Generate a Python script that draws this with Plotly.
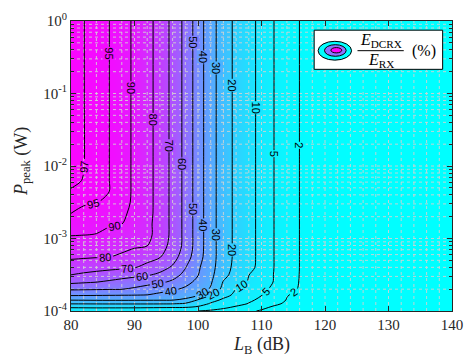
import plotly.graph_objects as go

# Link loss L_B (dB) and peak power P_peak (W) grid
L_B = [80, 82, 84, 86, 88, 90, 92, 94, 96, 98, 100, 102, 104, 106, 108, 110, 112, 114, 116, 118, 124, 140]
P_PEAK = [1.0e-4, 1.122e-4, 1.259e-4, 1.413e-4, 1.660e-4, 1.995e-4, 2.512e-4, 3.162e-4, 3.981e-4,
          5.623e-4, 7.943e-4, 1.122e-3, 1.585e-3, 2.239e-3, 3.162e-3, 4.467e-3, 6.310e-3, 1.0e-2, 1.0e-1, 1.0]

# E_DCRX / E_RX in percent, one row per P_PEAK value (bottom to top)
E_RATIO = [
    [7.0, 7.0, 6.9, 6.8, 6.7, 6.5, 6.3, 6.0, 5.7, 5.35, 5.0, 4.3, 3.6, 2.9, 2.3, 1.8, 1.4, 1.1, 0.9, 0.7, 0.35, 0.1],
    [10.3, 10.4, 10.5, 10.5, 10.5, 10.5, 10.4, 10.3, 10.2, 10.1, 8.8, 7.3, 5.7, 4.4, 3.3, 2.4, 1.7, 1.3, 1.0, 0.8, 0.4, 0.1],
    [20.3, 20.4, 20.5, 20.6, 20.6, 20.6, 20.6, 20.5, 20.3, 18.6, 13.1, 9.3, 7.8, 6.2, 4.8, 3.6, 2.35, 1.7, 1.3, 0.95, 0.45, 0.1],
    [30.1, 30.3, 30.5, 30.6, 30.6, 30.5, 30.4, 30.3, 30.1, 28.5, 19.0, 12.1, 8.9, 7.3, 5.6, 4.25, 3.0, 1.9, 1.4, 1.0, 0.45, 0.1],
    [41.2, 41.0, 40.8, 40.6, 40.4, 40.2, 39.8, 37.6, 35.5, 33.3, 31.1, 20.1, 12.0, 8.7, 6.9, 5.1, 3.7, 2.1, 1.5, 1.1, 0.5, 0.1],
    [51.2, 50.9, 50.6, 50.3, 50.1, 48.4, 46.1, 43.7, 41.4, 38.3, 34.0, 29.1, 16.6, 9.9, 7.9, 5.9, 4.2, 2.8, 1.8, 1.2, 0.5, 0.1],
    [62.3, 61.2, 60.2, 58.6, 56.8, 55.0, 53.2, 51.4, 48.6, 43.2, 37.5, 31.2, 19.4, 13.9, 9.3, 7.0, 4.8, 3.3, 1.9, 1.25, 0.5, 0.1],
    [70.1, 68.5, 67.0, 65.5, 64.0, 62.5, 61.0, 58.3, 53.4, 47.8, 40.4, 32.4, 23.0, 15.9, 10.1, 7.4, 4.85, 3.4, 1.95, 1.3, 0.5, 0.1],
    [75.0, 74.2, 73.4, 72.5, 71.6, 70.4, 67.4, 63.4, 58.8, 50.4, 41.4, 33.2, 24.3, 17.1, 11.8, 8.0, 4.95, 3.5, 1.98, 1.3, 0.5, 0.1],
    [81.7, 81.2, 80.7, 80.3, 78.8, 76.1, 73.4, 70.7, 64.0, 55.0, 44.1, 33.8, 25.0, 17.8, 12.2, 8.1, 4.95, 3.5, 1.98, 1.3, 0.5, 0.1],
    [86.7, 85.6, 84.5, 83.4, 82.3, 81.2, 80.1, 74.2, 66.8, 57.2, 45.0, 33.8, 25.0, 17.8, 12.2, 8.1, 4.95, 3.5, 1.98, 1.3, 0.5, 0.1],
    [90.3, 90.1, 89.8, 88.0, 85.8, 84.3, 82.4, 76.2, 67.5, 57.2, 45.0, 33.8, 25.0, 17.8, 12.2, 8.1, 4.95, 3.5, 1.98, 1.3, 0.5, 0.1],
    [92.9, 92.2, 91.5, 90.8, 90.1, 86.6, 82.3, 76.3, 67.5, 57.2, 45.0, 33.8, 25.0, 17.8, 12.2, 8.1, 4.95, 3.5, 1.98, 1.3, 0.5, 0.1],
    [95.05, 94.0, 92.9, 91.9, 90.8, 88.9, 83.1, 76.3, 67.5, 57.2, 45.0, 33.8, 25.0, 17.8, 12.2, 8.1, 4.95, 3.5, 1.98, 1.3, 0.5, 0.1],
    [95.9, 95.5, 95.2, 94.0, 91.8, 89.1, 83.2, 76.3, 67.5, 57.2, 45.0, 33.8, 25.0, 17.8, 12.2, 8.1, 4.95, 3.5, 1.98, 1.3, 0.5, 0.1],
    [96.8, 96.2, 95.6, 95.05, 92.3, 89.1, 83.2, 76.3, 67.5, 57.2, 45.0, 33.8, 25.0, 17.8, 12.2, 8.1, 4.95, 3.5, 1.98, 1.3, 0.5, 0.1],
    [97.5, 96.9, 96.0, 95.05, 92.3, 89.1, 83.2, 76.3, 67.5, 57.2, 45.0, 33.8, 25.0, 17.8, 12.2, 8.1, 4.95, 3.5, 1.98, 1.3, 0.5, 0.1],
    [98.0, 97.05, 96.0, 95.05, 92.3, 89.1, 83.2, 76.3, 67.5, 57.2, 45.0, 33.8, 25.0, 17.8, 12.2, 8.1, 4.95, 3.5, 1.98, 1.3, 0.5, 0.1],
    [98.0, 97.05, 96.0, 95.05, 92.3, 89.1, 83.2, 76.3, 67.5, 57.2, 45.0, 33.8, 25.0, 17.8, 12.2, 8.1, 4.95, 3.5, 1.98, 1.3, 0.5, 0.1],
    [98.0, 97.05, 96.0, 95.05, 92.3, 89.1, 83.2, 76.3, 67.5, 57.2, 45.0, 33.8, 25.0, 17.8, 12.2, 8.1, 4.95, 3.5, 1.98, 1.3, 0.5, 0.1],
]

LEVELS = [2, 5, 10, 20, 30, 40, 50, 60, 70, 80, 90, 95, 97]
X_TICKS = [80, 90, 100, 110, 120, 130, 140]
Y_TICKS = [1e-4, 1e-3, 1e-2, 1e-1, 1.0]
Y_TICK_TEXT = ["10<sup>-4</sup>", "10<sup>-3</sup>", "10<sup>-2</sup>", "10<sup>-1</sup>", "10<sup>0</sup>"]

# extra in-line labels on the upright parts of the iso-lines: (level, log10 height of the label)
UPRIGHT_LABELS = [(95, -0.45), (90, -0.92), (80, -1.36), (70, -1.72), (60, -1.97),
                  (50, -0.29), (40, -0.49), (30, -0.65), (20, -0.89), (10, -1.19), (5, -1.83), (2, -1.72),
                  (50, -2.59), (40, -2.81), (30, -2.95), (20, -3.16)]

COOL = [[0.0, "rgb(0,255,255)"], [1.0, "rgb(255,0,255)"]]
SERIF = "Liberation Serif"
AX_COLOR = "#262626"


def cool_colour(v):
    t = max(0.0, min(1.0, v / 100.0))
    return "rgb(%d,%d,255)" % (round(255 * t), round(255 * (1 - t)))


def level_position(row, lvl):
    # L_B where a row of E_RATIO passes through the given level
    for i in range(len(row) - 1):
        a, b = row[i], row[i + 1]
        if (a - lvl) * (b - lvl) <= 0 and a != b:
            return L_B[i] + (a - lvl) / (a - b) * (L_B[i + 1] - L_B[i])
    return None


fig = go.Figure()

# smooth colour field
fig.add_trace(go.Heatmap(
    x=L_B, y=P_PEAK, z=E_RATIO, zsmooth="best",
    colorscale=COOL, zmin=0, zmax=100, showscale=False, hoverinfo="skip",
))

# dotted grid sitting on the colour field
grid_line = dict(color="rgba(210,210,210,0.9)", width=1, dash="dot")
gx, gy = [], []
for xv in range(82, 140, 2):
    gx += [xv, xv, None]
    gy += [1e-4, 1.0, None]
for e in range(-4, 0):
    for k in range(1, 10):
        if e == -4 and k == 1:
            continue
        yv = k * 10.0 ** e
        gx += [80, 140, None]
        gy += [yv, yv, None]
fig.add_trace(go.Scatter(x=gx, y=gy, mode="lines", line=grid_line, hoverinfo="skip", showlegend=False))

# labelled iso-lines on an overlaid copy of the axes, so they stay above the grid
for lvl in LEVELS:
    fig.add_trace(go.Contour(
        x=L_B, y=P_PEAK, z=E_RATIO, autocontour=False, xaxis="x2", yaxis="y2",
        contours=dict(start=lvl, end=lvl, size=1, coloring="lines", showlabels=True,
                      labelfont=dict(size=11, color="black", family="Liberation Sans")),
        colorscale=[[0, "black"], [1, "black"]], showscale=False,
        line=dict(width=1, smoothing=0.9), hoverinfo="skip",
    ))

# legend box with contour icon
W, H, L0, T0 = 387.0, 300.0, 71.0, 11.0


def px(xp):
    return (xp - L0) / W


def py(yp):
    return (T0 + H - yp) / H


shapes = [
    dict(type="rect", xref="paper", yref="paper", x0=px(318), x1=px(448.5), y0=py(61), y1=py(20.5),
         fillcolor="white", line=dict(color="black", width=1), layer="above"),
    dict(type="circle", xref="paper", yref="paper", x0=px(322), x1=px(356), y0=py(51.5), y1=py(32),
         fillcolor="rgb(0,255,255)", line=dict(color="black", width=1), layer="above"),
    dict(type="circle", xref="paper", yref="paper", x0=px(328.5), x1=px(350.5), y0=py(47.5), y1=py(35.5),
         fillcolor="rgb(140,115,255)", line=dict(color="black", width=1), layer="above"),
    dict(type="circle", xref="paper", yref="paper", x0=px(335), x1=px(346), y0=py(44), y1=py(38.5),
         fillcolor="rgb(255,0,255)", line=dict(color="black", width=1), layer="above"),
    dict(type="line", xref="paper", yref="paper", x0=px(362), x1=px(409), y0=py(41.7), y1=py(41.7),
         line=dict(color="black", width=1), layer="above"),
]

annotations = [
    dict(text="<i>E</i><sub>DCRX</sub>", x=px(385.5), y=py(31), xref="paper", yref="paper",
         showarrow=False, xanchor="center", yanchor="middle", font=dict(family=SERIF, size=16, color="black")),
    dict(text="<i>E</i><sub>RX</sub>", x=px(385.5), y=py(52), xref="paper", yref="paper",
         showarrow=False, xanchor="center", yanchor="middle", font=dict(family=SERIF, size=16, color="black")),
    dict(text="(%)", x=px(430), y=py(42), xref="paper", yref="paper",
         showarrow=False, xanchor="center", yanchor="middle", font=dict(family=SERIF, size=16, color="black")),
    dict(text="<i>L</i><sub>B</sub> (dB)", x=px(264), y=py(347), xref="paper", yref="paper",
         showarrow=False, xanchor="center", yanchor="middle", font=dict(family=SERIF, size=18, color=AX_COLOR)),
    dict(text="<i>P</i><sub>peak</sub> (W)", x=px(21), y=py(156), xref="paper", yref="paper", textangle=-90,
         showarrow=False, xanchor="center", yanchor="middle", font=dict(family=SERIF, size=18, color=AX_COLOR)),
]

# upright labels sit on the iso-line, with the local fill colour behind them
top_row = E_RATIO[-1]
for lvl, ly in UPRIGHT_LABELS:
    xl = level_position(top_row, lvl)
    annotations.append(dict(
        text=str(lvl), x=xl, y=ly, xref="x", yref="y", showarrow=False, textangle=90,
        xanchor="center", yanchor="middle", bgcolor=cool_colour(lvl), borderpad=0,
        font=dict(family="Liberation Sans", size=11, color="black"),
    ))

minor_ticks = [k * 10.0 ** e for e in range(-4, 0) for k in range(2, 10)]

fig.update_layout(
    width=474, height=360,
    margin=dict(l=71, r=16, t=11, b=49),
    paper_bgcolor="white", plot_bgcolor="white",
    showlegend=False,
    shapes=shapes, annotations=annotations,
    xaxis=dict(range=[80, 140], tickmode="array", tickvals=X_TICKS, ticks="inside", ticklen=5,
               tickcolor=AX_COLOR, showline=True, linecolor=AX_COLOR, linewidth=1, mirror="ticks",
               showgrid=False, zeroline=False, layer="above traces",
               tickfont=dict(family=SERIF, size=15, color=AX_COLOR)),
    yaxis=dict(type="log", range=[-4, 0], tickmode="array", tickvals=Y_TICKS, ticktext=Y_TICK_TEXT,
               ticks="inside", ticklen=5, tickcolor=AX_COLOR, showline=True, linecolor=AX_COLOR, linewidth=1,
               mirror="ticks", showgrid=False, zeroline=False, layer="above traces",
               minor=dict(tickmode="array", tickvals=minor_ticks, ticks="inside", ticklen=3,
                          tickcolor=AX_COLOR, showgrid=False),
               tickfont=dict(family=SERIF, size=15, color=AX_COLOR)),
    xaxis2=dict(range=[80, 140], overlaying="x", visible=False, showgrid=False, zeroline=False),
    yaxis2=dict(type="log", range=[-4, 0], overlaying="y", visible=False, showgrid=False, zeroline=False),
)

fig.write_html("out.html")
